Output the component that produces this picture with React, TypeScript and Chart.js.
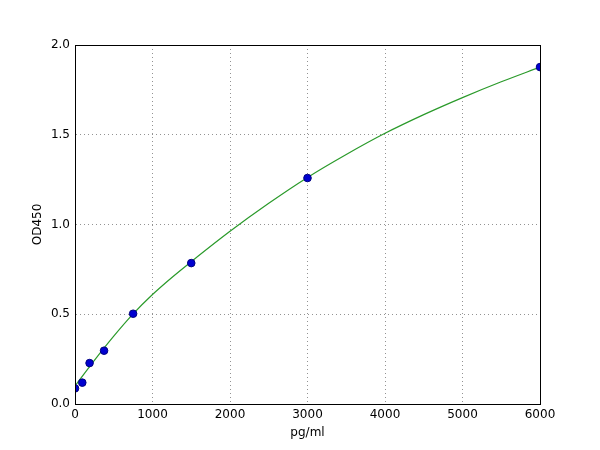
import React, { useEffect, useRef } from "react";
import { Chart, registerables } from "chart.js";

Chart.register(...registerables);

// standards: concentration (pg/ml) and measured OD450
const standardConc = [0, 94, 188, 375, 750, 1500, 3000, 6000];
const standardOD = [0.087, 0.119, 0.228, 0.297, 0.503, 0.785, 1.259, 1.877];

// fitted curve
const curveConc = [0, 250, 500, 750, 1000, 1250, 1500, 2000, 2500, 3000, 3500, 4000, 4500, 5000, 5500, 6000];
const curveOD = [0.1, 0.243, 0.378, 0.502, 0.61, 0.705, 0.793, 0.962, 1.118, 1.262, 1.39, 1.508, 1.612, 1.707, 1.795, 1.877];

const xTickStep = 1000;
const yTickStep = 0.5;

const FONT = "'DejaVu Sans', sans-serif";

const framePlugin = {
  id: "frame",
  afterDraw(chart: any) {
    const { ctx, chartArea } = chart;
    ctx.save();
    ctx.strokeStyle = "#000";
    ctx.lineWidth = 1;
    ctx.strokeRect(
      Math.round(chartArea.left) + 0.5,
      Math.round(chartArea.top) + 0.5,
      Math.round(chartArea.right - chartArea.left),
      Math.round(chartArea.bottom - chartArea.top)
    );
    ctx.restore();
  },
};

export default function App() {
  const canvasRef = useRef<HTMLCanvasElement | null>(null);

  useEffect(() => {
    if (!canvasRef.current) return;

    const chart = new Chart(canvasRef.current, {
      type: "scatter",
      data: {
        datasets: [
          {
            label: "points",
            data: standardConc.map((x, i) => ({ x, y: standardOD[i] })),
            backgroundColor: "#0000d0",
            borderColor: "#000080",
            borderWidth: 1,
            pointRadius: 3.8,
            showLine: false,
          },
          {
            label: "fit",
            data: curveConc.map((x, i) => ({ x, y: curveOD[i] })),
            borderColor: "#2a9a2a",
            borderWidth: 1.2,
            pointRadius: 0,
            showLine: true,
            cubicInterpolationMode: "monotone",
          },
        ],
      },
      options: {
        responsive: false,
        animation: false,
        layout: { padding: { top: 45, right: 60, left: 0, bottom: 0 } },
        plugins: {
          legend: { display: false },
          tooltip: { enabled: false },
        },
        scales: {
          x: {
            type: "linear",
            min: 0,
            max: 6000,
            afterFit: (s: any) => {
              s.height = 46;
            },
            ticks: {
              stepSize: xTickStep,
              padding: 4,
              color: "#000",
              font: { family: FONT, size: 12 },
              callback: (v: any) => String(v),
            },
            grid: {
              color: "#777",
              lineWidth: 0.8,
              drawTicks: false,
            },
            border: { display: true, color: "#000", dash: [1, 3] },
            title: {
              display: true,
              text: "pg/ml",
              color: "#000",
              font: { family: FONT, size: 12 },
              padding: { top: 10, bottom: 10 },
            },
          },
          y: {
            type: "linear",
            min: 0,
            max: 2,
            afterFit: (s: any) => {
              s.width = 75;
            },
            ticks: {
              stepSize: yTickStep,
              padding: 5,
              color: "#000",
              font: { family: FONT, size: 12 },
              callback: (v: any) => Number(v).toFixed(1),
            },
            grid: {
              color: "#777",
              lineWidth: 0.8,
              drawTicks: false,
            },
            border: { display: true, color: "#000", dash: [1, 3] },
            title: {
              display: true,
              text: "OD450",
              color: "#000",
              font: { family: FONT, size: 12 },
              padding: { top: 31, bottom: 31 },
            },
          },
        },
      },
      plugins: [framePlugin],
    });

    return () => chart.destroy();
  }, []);

  return (
    <div style={{ position: "fixed", left: 0, top: 0, width: 600, height: 450, background: "#fff" }}>
      <canvas ref={canvasRef} width={600} height={450} />
    </div>
  );
}
